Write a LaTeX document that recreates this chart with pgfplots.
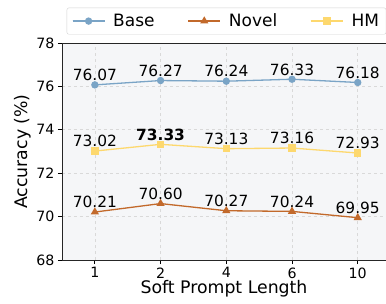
\documentclass[border=0pt]{standalone}
\usepackage{pgfplots}
\pgfplotsset{compat=1.18}
\usepackage{fontspec}
\setmainfont{DejaVu Sans}
\definecolor{basec}{HTML}{7AA4C6}
\definecolor{novelc}{HTML}{C2692B}
\definecolor{hmc}{HTML}{FDD86E}
\definecolor{bgc}{HTML}{F5F6F8}
\definecolor{gridc}{HTML}{D9D9D9}
\begin{document}
\begin{tikzpicture}
\begin{axis}[
  scale only axis,
  width=324pt, height=217pt,
  at={(0,0)}, anchor=south west,
  xmin=-0.5, xmax=4.43,
  ymin=68, ymax=78,
  ytick={68,70,72,74,76,78},
  xtick={0,1,2,3,4},
  xticklabels={1,2,4,6,10},
  axis x line*=box, axis y line*=left,
  xtick pos=bottom, ytick pos=left,
  tick align=outside,
  major tick length=4pt,
  tick style={black, line width=0.8pt},
  axis line style={black!85, line width=0.9pt},
  axis background/.style={fill=bgc},
  grid=major,
  grid style={gridc, dashed, line width=0.7pt},
  /pgf/number format/assume math mode=true,
  ticklabel style={font=\fontsize{14.2}{16}\selectfont},
  xlabel={Soft Prompt Length},
  ylabel={Accuracy (\%)},
  label style={font=\fontsize{17.3}{19}\selectfont},
  xlabel style={yshift=5pt},
  ylabel style={yshift=-2pt},
  legend columns=3,
  legend style={at={(rel axis cs:0.5,1)}, anchor=south, yshift=8.5pt, xshift=2.5pt,
    draw=gray!35, rounded corners=2pt,
    font=\fontsize{17}{19}\selectfont,
    /tikz/every even column/.append style={column sep=31pt},
    /tikz/every odd column/.append style={column sep=6pt},
    inner xsep=5pt, inner ysep=4pt},
  legend cell align=left,
  legend image code/.code={\draw[#1] (0pt,0pt) -- (32pt,0pt); \draw[#1,mark repeat=2,mark phase=2] plot coordinates {(0pt,0pt) (16pt,0pt) (32pt,0pt)};},
  nodes near coords={\pgfplotspointmeta},
  point meta=explicit symbolic,
  every node near coord/.append style={font=\fontsize{15.4}{17}\selectfont, black, yshift=0pt},
  clip=false,
]
\addplot[basec, line width=1.3pt, mark=*, mark size=3pt, mark options={solid}] coordinates {
  (0,76.07) [76.07] (1,76.27) [76.27] (2,76.24) [76.24] (3,76.33) [76.33] (4,76.18) [76.18]};
\addlegendentry{Base}
\addplot[novelc, line width=1.3pt, mark=triangle*, mark size=3.5pt] coordinates {
  (0,70.21) [70.21] (1,70.60) [70.60] (2,70.27) [70.27] (3,70.24) [70.24] (4,69.95) [69.95]};
\addlegendentry{Novel}
\addplot[hmc, line width=1.3pt, mark=square*, mark size=3pt] coordinates {
  (0,73.02) [73.02] (1,73.33) [\textbf{73.33}] (2,73.13) [73.13] (3,73.16) [73.16] (4,72.93) [72.93]};
\addlegendentry{HM}
\end{axis}
\pgfresetboundingbox
\path (-62pt,-43pt) rectangle (324pt,260pt);
\end{tikzpicture}
\end{document}
